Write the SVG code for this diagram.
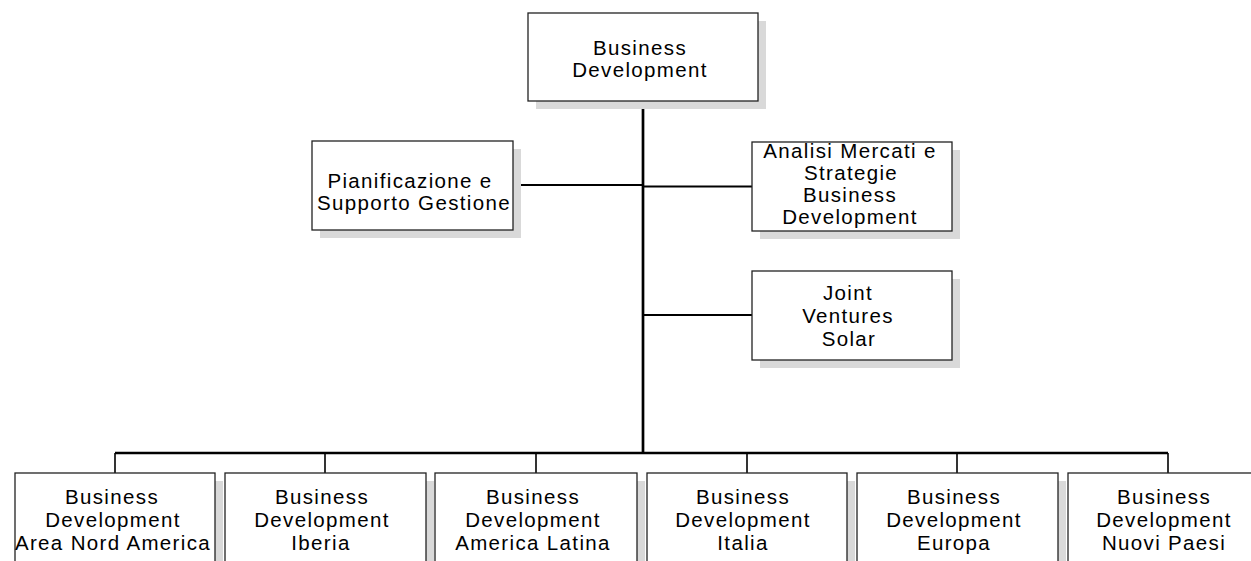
<svg xmlns="http://www.w3.org/2000/svg" width="1251" height="561" viewBox="0 0 1251 561">
<style>
.sh{fill:#d9d9d9}
.bx{fill:#fff;stroke:#222;stroke-width:1.3}
.t{font-family:"Liberation Sans",Arial,sans-serif;font-size:20.5px;letter-spacing:1.35px;fill:#000;text-anchor:middle}
.ln{stroke:#000;fill:none}
</style>
<rect width="1251" height="561" fill="#fff"/>
<g id="connectors">
<line class="ln" x1="643" y1="101" x2="643" y2="454" stroke-width="2.7"/>
<line class="ln" x1="513" y1="185" x2="643" y2="185" stroke-width="1.8"/>
<line class="ln" x1="643" y1="186.5" x2="752" y2="186.5" stroke-width="1.8"/>
<line class="ln" x1="643" y1="315" x2="752" y2="315" stroke-width="1.8"/>
<line class="ln" x1="115" y1="453" x2="1168" y2="453" stroke-width="2.7"/>
<line class="ln" x1="115" y1="453" x2="115" y2="473" stroke-width="1.6"/>
<line class="ln" x1="325" y1="453" x2="325" y2="473" stroke-width="1.6"/>
<line class="ln" x1="536" y1="453" x2="536" y2="473" stroke-width="1.6"/>
<line class="ln" x1="747" y1="453" x2="747" y2="473" stroke-width="1.6"/>
<line class="ln" x1="957" y1="453" x2="957" y2="473" stroke-width="1.6"/>
<line class="ln" x1="1168" y1="453" x2="1168" y2="473" stroke-width="1.6"/>
</g>
<g id="n-top">
<rect class="sh" x="536" y="21" width="230" height="88"/>
<rect class="bx" x="528" y="13" width="230" height="88"/>
<text class="t" x="640" y="55">Business</text>
<text class="t" x="640" y="77">Development</text>
</g>
<g id="n-pianificazione">
<rect class="sh" x="320" y="149" width="201" height="89"/>
<rect class="bx" x="312" y="141" width="201" height="89"/>
<text class="t" x="410" y="188">Pianificazione e</text>
<text class="t" x="414" y="210">Supporto Gestione</text>
</g>
<g id="n-analisi">
<rect class="sh" x="760" y="150" width="200" height="89"/>
<rect class="bx" x="752" y="142" width="200" height="89"/>
<text class="t" x="850" y="158">Analisi Mercati e</text>
<text class="t" x="851" y="180">Strategie</text>
<text class="t" x="850" y="202">Business</text>
<text class="t" x="850" y="224">Development</text>
</g>
<g id="n-joint">
<rect class="sh" x="760" y="279" width="200" height="89"/>
<rect class="bx" x="752" y="271" width="200" height="89"/>
<text class="t" x="848" y="300">Joint</text>
<text class="t" x="848" y="323">Ventures</text>
<text class="t" x="849" y="346">Solar</text>
</g>
<g id="n-nord-america">
<rect class="sh" x="23" y="481" width="200" height="100"/>
<rect class="bx" x="15" y="473" width="200" height="100"/>
<text class="t" x="112" y="504">Business</text>
<text class="t" x="113" y="527">Development</text>
<text class="t" x="113" y="550">Area Nord America</text>
</g>
<g id="n-iberia">
<rect class="sh" x="233" y="481" width="201" height="100"/>
<rect class="bx" x="225" y="473" width="201" height="100"/>
<text class="t" x="322" y="504">Business</text>
<text class="t" x="322" y="527">Development</text>
<text class="t" x="321" y="550">Iberia</text>
</g>
<g id="n-america-latina">
<rect class="sh" x="443" y="481" width="202" height="100"/>
<rect class="bx" x="435" y="473" width="202" height="100"/>
<text class="t" x="533" y="504">Business</text>
<text class="t" x="533" y="527">Development</text>
<text class="t" x="533" y="550">America Latina</text>
</g>
<g id="n-italia">
<rect class="sh" x="655" y="481" width="200" height="100"/>
<rect class="bx" x="647" y="473" width="200" height="100"/>
<text class="t" x="743" y="504">Business</text>
<text class="t" x="743" y="527">Development</text>
<text class="t" x="743" y="550">Italia</text>
</g>
<g id="n-europa">
<rect class="sh" x="865" y="481" width="201" height="100"/>
<rect class="bx" x="857" y="473" width="201" height="100"/>
<text class="t" x="954" y="504">Business</text>
<text class="t" x="954" y="527">Development</text>
<text class="t" x="954" y="550">Europa</text>
</g>
<g id="n-nuovi-paesi">
<rect class="sh" x="1076" y="481" width="201" height="100"/>
<rect class="bx" x="1068" y="473" width="201" height="100"/>
<text class="t" x="1164" y="504">Business</text>
<text class="t" x="1164" y="527">Development</text>
<text class="t" x="1164" y="550">Nuovi Paesi</text>
</g>
</svg>
